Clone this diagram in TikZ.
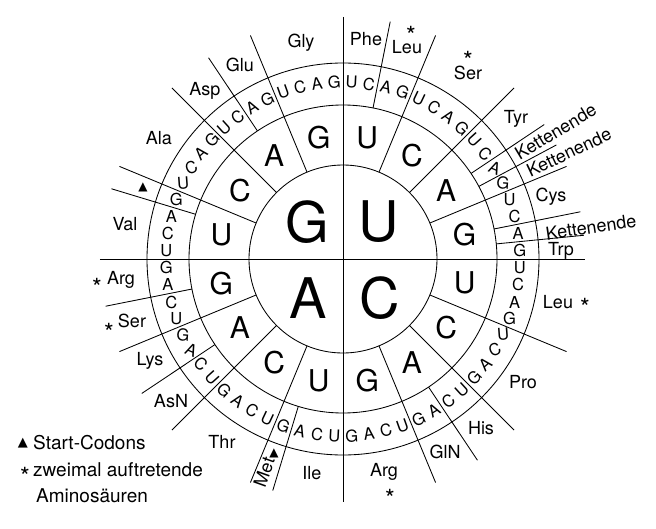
\documentclass[tikz,border=0pt]{standalone}
\usepackage{fontspec}
\setmainfont{TeX Gyre Heros}
\newfontfamily\symfnt{DejaVu Sans}
\begin{document}
\begin{tikzpicture}[x=1pt,y=1pt,
  spoke/.style={line width=0.85pt},
  ring/.style={line width=0.85pt},
  bigltr/.style={font=\fontsize{56}{56}\selectfont, inner sep=0pt},
  midltr/.style={font=\fontsize{30}{30}\selectfont, inner sep=0pt},
  outltr/.style={font=\fontsize{16.5}{16.5}\selectfont, inner sep=0pt},
  aalabel/.style={font=\fontsize{18}{18}\selectfont, inner sep=0pt},
  star/.style={font=\fontsize{25}{25}\selectfont, inner sep=0pt},
  tri/.style={font=\symfnt\fontsize{12}{12}\selectfont, inner sep=0pt},
  legendtxt/.style={font=\fontsize{19}{19}\selectfont, inner sep=0pt, anchor=base west}]
\useasboundingbox (-343,-269) rectangle (313,259);
% circles
\draw[ring] (0,0) circle (94);
\draw[ring] (0,0) circle (154);
\draw[ring] (0,0) circle (196);
% axes
\coordinate (vt) at (0,242);
\coordinate (vb) at (0,-243);
\coordinate (hl) at (-243,0);
\coordinate (hr) at (242,0);
\draw[line width=0.95pt] (vt) -- (vb);
\draw[line width=0.95pt] (hl) -- (hr);
% spokes from inner circle
\foreach \a in {22.5,45,67.5,112.5,135,157.5,202.5,225,247.5,292.5,315,337.5}
  \draw[spoke] ({90-\a}:94) -- ({90-\a}:242);
% spokes from second circle
\foreach \a in {11.25,56.25,61.875,78.75,84.375,146.25,196.875,236.25,258.75,286.875,326.25}
  \draw[spoke] ({90-\a}:154) -- ({90-\a}:242);
% big letters
\node[bigltr] (bG) at (-36,37) {G};
\node[bigltr] (bU) at (36,37) {U};
\node[bigltr] (bA) at (-35,-39) {A};
\node[bigltr] (bC) at (37,-39) {C};
% second ring
\foreach \q in {0,...,3}
  \foreach [count=\j from 0] \l in {U,C,A,G}
    \node[midltr] (m\q\j) at ({90-(90*\q+22.5*\j+11.25)}:124) {\l};
% outer ring
\foreach \q in {0,...,15}
  \foreach [count=\j from 0] \l in {U,C,A,G} {
    \pgfmathsetmacro\th{22.5*\q+5.625*(\j+0.5)}
    \pgfmathsetmacro\dd{\th<=90 ? \th : (\th>=270 ? \th-360 : \th-180)}
    \pgfmathsetmacro\mm{min(abs(\dd), max(0,(66-abs(\dd))*3.3))}
    \pgfmathsetmacro\rot{\dd<0 ? \mm : -\mm}
    \node[outltr, rotate=\rot] (o\q-\j) at ({90-\th}:177) {\l};
  }
% amino acid labels
\node[aalabel] (gly) at (-42,216) {Gly};
\node[aalabel] (phe) at (23,220) {Phe};
\node[aalabel] (leu1) at (64,212) {Leu};
\node[star] (s1) at (68,224) {*};
\node[aalabel] (ser1) at (125,186) {Ser};
\node[star] (s2) at (125,199) {*};
\node[aalabel] (tyr) at (173,140) {Tyr};
\node[aalabel, rotate=30.9] (ke1) at (30.94:248) {Kettenende};
\node[aalabel, rotate=25.3] (ke2) at (25.31:250) {Kettenende};
\node[aalabel] (cys) at (208,62) {Cys};
\node[aalabel, rotate=8.4] (ke3) at (248,32) {Kettenende};
\node[aalabel] (trp) at (218,8) {Trp};
\node[aalabel] (leu2) at (215,-43) {Leu};
\node[star] (s3) at (242,-48) {*};
\node[aalabel] (pro) at (180,-123) {Pro};
\node[aalabel] (his) at (138,-169) {His};
\node[aalabel] (gln) at (102,-193) {GlN};
\node[aalabel] (arg1) at (41,-213) {Arg};
\node[star] (s4) at (47,-239) {*};
\node[aalabel] (ile) at (-31,-214) {Ile};
\node[aalabel, rotate=70.3] (met) at (-79,-213) {Met};
\node[tri] (t1) at (-69,-194) {▲};
\node[aalabel] (thr) at (-121,-183) {Thr};
\node[aalabel] (asn) at (-172,-142) {AsN};
\node[aalabel] (lys) at (-193,-102) {Lys};
\node[aalabel] (ser2) at (-211,-62) {Ser};
\node[star] (s5) at (-234,-73) {*};
\node[aalabel] (arg2) at (-222,-21) {Arg};
\node[star] (s6) at (-246,-28) {*};
\node[aalabel] (val) at (-218,35) {Val};
\node[tri] (t2) at (-200,72) {▲};
\node[aalabel] (ala) at (-184,121) {Ala};
\node[aalabel] (asp) at (-138,168) {Asp};
\node[aalabel] (glu) at (-103,194) {Glu};
% legend
\node[tri, font=\symfnt\fontsize{13}{13}\selectfont] (lt) at (-320,-184) {▲};
\node[legendtxt] (l1) at (-310,-190) {Start-Codons};
\node[star] (ls) at (-318,-217) {*};
\node[legendtxt] (l2) at (-310,-217) {zweimal auftretende};
\node[legendtxt] (l3) at (-307,-243) {Aminosäuren};
\end{tikzpicture}
\end{document}
